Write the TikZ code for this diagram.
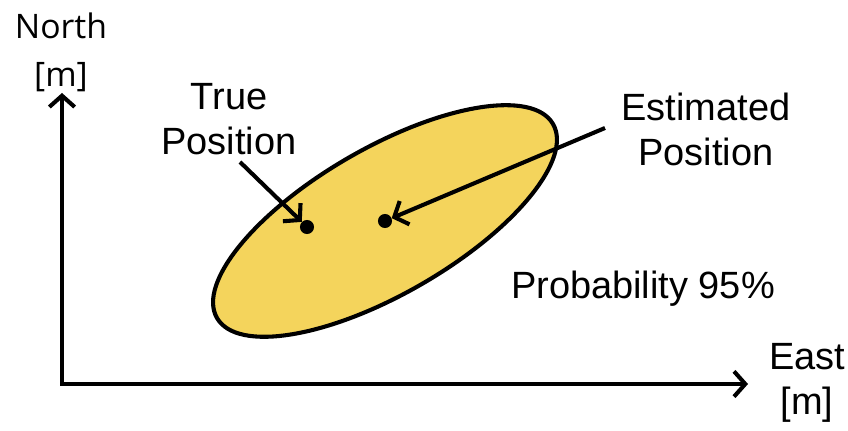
\documentclass[tikz,border=0pt]{standalone}
\usepackage{fontspec}
\setmainfont{Liberation Sans}
\newfontfamily\northfont{Open Sans}
\usepackage{xcolor}
\definecolor{ellipsejaune}{RGB}{244, 212, 92}
\usepackage{tikz}
\usetikzlibrary{positioning, arrows.meta}

\begin{document}
\begin{tikzpicture}[
  x=0.025cm, y=0.025cm,
  axis/.style={line width=2.9pt, {Straight Barb[length=8pt, width=18pt]}-{Straight Barb[length=8pt, width=18pt]}},
  pointer/.style={line width=2.9pt, -{Straight Barb[length=8pt, width=18pt]}},
  label/.style={inner sep=0pt, align=center, font=\fontsize{27}{32}\selectfont},
  dot/.style={circle, fill=black, inner sep=0pt, minimum size=10pt}
]
\useasboundingbox (0,0) rectangle (848,431);
% Axes
\coordinate (origin) at (62,47);
\coordinate (ytip) at (62,338);
\coordinate (xtip) at (748,47);
\draw[axis] (ytip) -- (origin) -- (xtip);
\node[label, font=\northfont\fontsize{24}{34}\selectfont] (northlbl) at (61,379) {North\\{[m]}};
\node[label] (eastlbl) at (807,48) {East\\{[m]}};
% Confidence region
\coordinate (center) at (385,210);
\draw[line width=2.9pt, fill=ellipsejaune, rotate around={30:(center)}] (center) ellipse [x radius=194, y radius=73];
% Positions
\node[dot] (truepos) at (307,204) {};
\node[dot] (estpos) at (center) {};
\node[label] (truelbl) at (229,312) {True\\Position};
\node[label] (estlbl) at (706,302) {Estimated\\Position};
\node[label] (problbl) at (643,142) {Probability 95\%};
% Pointers
\coordinate (truestart) at (240,269);
\coordinate (eststart) at (605,303);
\draw[pointer] (truestart) -- (truepos);
\draw[pointer] (eststart) -- (estpos);
\end{tikzpicture}
\end{document}
